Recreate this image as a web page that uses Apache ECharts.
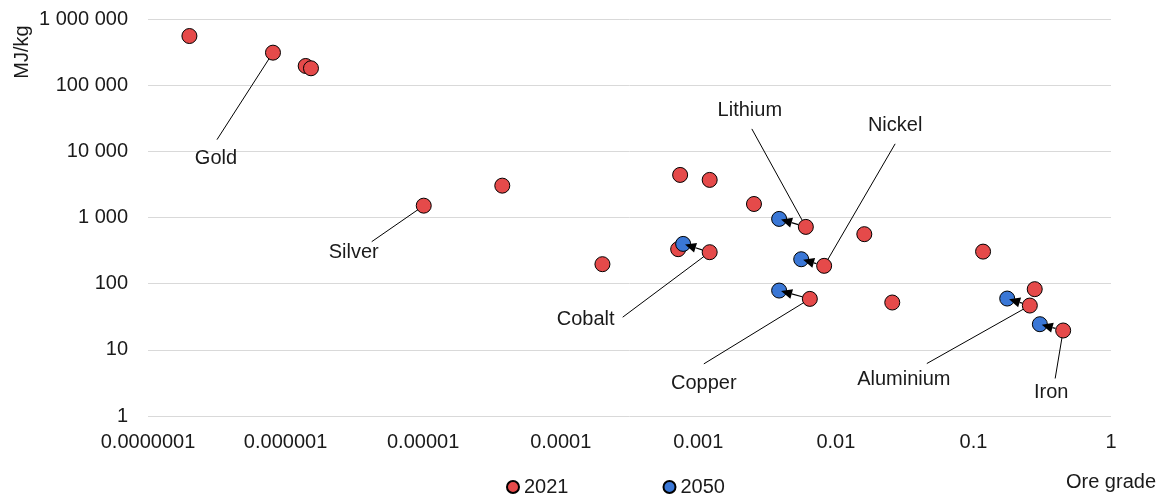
<!DOCTYPE html>
<html>
<head>
<meta charset="utf-8">
<script src="https://cdn.jsdelivr.net/npm/echarts@6/dist/echarts.min.js"></script>
<style>
  html, body { margin: 0; padding: 0; background: #ffffff; }
  #chart { width: 1166px; height: 500px; }
</style>
</head>
<body>
<div id="chart"></div>
<script>
// ---- Data ----
// 2021 points: ore grade (fraction) and energy (MJ/kg); name only where labelled
const metal2021 = ['', 'Gold', '', '', 'Silver', '', '', '', '', '', 'Cobalt', '', 'Lithium', 'Copper', 'Nickel', '', '', '', 'Aluminium', '', 'Iron'];
const grade2021 = [2.0e-7, 8.1e-7, 1.4e-6, 1.53e-6, 1.01e-5, 3.76e-5, 2.01e-4, 7.14e-4, 7.38e-4, 1.21e-3, 1.21e-3, 2.54e-3, 6.05e-3, 6.47e-3, 8.22e-3, 0.0161, 0.0257, 0.1175, 0.257, 0.279, 0.449];
const energy2021 = [553000, 310000, 195000, 180000, 1510, 3030, 197, 332, 4400, 3700, 299, 1600, 721, 58.9, 186, 560, 51.9, 305, 46.7, 82.6, 19.6];

// 2050 points
const metal2050 = ['Lithium', 'Cobalt', 'Nickel', 'Copper', 'Aluminium', 'Iron'];
const grade2050 = [3.87e-3, 7.76e-4, 5.6e-3, 3.87e-3, 0.176, 0.304];
const energy2050 = [952, 399, 234, 78.7, 59.6, 24.4];

// Axis tick values
const xTicks = [1e-7, 1e-6, 1e-5, 1e-4, 1e-3, 1e-2, 1e-1, 1];
const yTicks = [1, 10, 100, 1000, 10000, 100000, 1000000];

// ---- Annotation layout (pixel offsets from the labelled 2021 point) ----
const labelLayout = {
  Gold:      { line: [-56, 87],   text: [-57, 106] },
  Silver:    { line: [-52, 36],   text: [-70, 47] },
  Lithium:   { line: [-54, -98],  text: [-56, -116] },
  Nickel:    { line: [71, -122],  text: [71, -140] },
  Cobalt:    { line: [-87, 65],   text: [-124, 67] },
  Copper:    { line: [-106, 65],  text: [-106, 85] },
  Aluminium: { line: [-103, 58],  text: [-126, 74] },
  Iron:      { line: [-8, 48],    text: [-12, 62] }
};

const RED = '#E54A4A';
const BLUE = '#3A77D6';
const TEXT = '#1a1a1a';
const FONT = '"Liberation Sans", Arial, sans-serif';
const FS = 20;
const R = 8;

const pts2021 = grade2021.map((g, i) => [g, energy2021[i]]);
const pts2050 = grade2050.map((g, i) => [g, energy2050[i]]);

const labelData = [];
metal2021.forEach((n, i) => { if (n) labelData.push([grade2021[i], energy2021[i], n]); });

const arrowData = metal2050.map((n, j) => {
  const i = metal2021.indexOf(n);
  return [grade2021[i], energy2021[i], grade2050[j], energy2050[j]];
});

function fmtX(v) {
  if (v >= 1) return String(Math.round(v));
  const d = Math.round(-Math.log10(v));
  return v.toFixed(d);
}
function fmtY(v) {
  return String(Math.round(v)).replace(/\B(?=(\d{3})+(?!\d))/g, ' ');
}

const chart = echarts.init(document.getElementById('chart'), null, { renderer: 'canvas' });

chart.setOption({
  animation: false,
  backgroundColor: '#ffffff',
  textStyle: { fontFamily: FONT },
  grid: { left: 148, right: 55, top: 19, bottom: 84, containLabel: false },
  xAxis: {
    type: 'log', logBase: 10,
    min: xTicks[0], max: xTicks[xTicks.length - 1],
    splitNumber: xTicks.length - 1,
    axisLine: { show: false },
    axisTick: { show: false },
    splitLine: { show: false },
    axisLabel: { formatter: fmtX, color: TEXT, fontSize: FS, fontFamily: FONT, margin: 16, showMinLabel: true, showMaxLabel: true, hideOverlap: false }
  },
  yAxis: {
    type: 'log', logBase: 10,
    min: yTicks[0], max: yTicks[yTicks.length - 1],
    splitNumber: yTicks.length - 1,
    axisLine: { show: false },
    axisTick: { show: false },
    splitLine: { show: true, lineStyle: { color: '#d9d9d9', width: 1 } },
    axisLabel: { formatter: fmtY, color: TEXT, fontSize: FS, fontFamily: FONT, margin: 20 }
  },
  legend: {
    data: ['2021', '2050'],
    left: 506, top: 477,
    icon: 'circle',
    itemWidth: 12, itemHeight: 12,
    itemGap: 94,
    padding: 0,
    textStyle: { color: TEXT, fontSize: FS, fontFamily: FONT }
  },
  graphic: [
    { type: 'text', x: 22, y: 52, rotation: Math.PI / 2,
      style: { text: 'MJ/kg', fill: TEXT, font: FS + 'px ' + FONT, align: 'center', verticalAlign: 'middle' } },
    { type: 'text', x: 1111, y: 482,
      style: { text: 'Ore grade', fill: TEXT, font: FS + 'px ' + FONT, align: 'center', verticalAlign: 'middle' } }
  ],
  series: [
    {
      name: 'labels', type: 'custom', z: 1, silent: true,
      encode: { x: 0, y: 1 },
      data: labelData,
      renderItem: function (params, api) {
        const p = api.coord([api.value(0), api.value(1)]);
        const name = labelData[params.dataIndex][2];
        const L = labelLayout[name];
        return {
          type: 'group',
          children: [
            { type: 'line', shape: { x1: p[0], y1: p[1], x2: p[0] + L.line[0], y2: p[1] + L.line[1] },
              style: { stroke: '#000', lineWidth: 1 } },
            { type: 'text', x: p[0] + L.text[0], y: p[1] + L.text[1],
              style: { text: name, fill: TEXT, font: FS + 'px ' + FONT, align: 'center', verticalAlign: 'middle' } }
          ]
        };
      }
    },
    {
      name: '2021', type: 'scatter', z: 2,
      symbol: 'circle', symbolSize: 15,
      itemStyle: { color: RED, borderColor: '#000', borderWidth: 1, opacity: 1 },
      data: pts2021
    },
    {
      name: '2050', type: 'scatter', z: 3,
      symbol: 'circle', symbolSize: 15,
      itemStyle: { color: BLUE, borderColor: '#000', borderWidth: 1, opacity: 1 },
      data: pts2050
    },
    {
      name: 'arrows', type: 'custom', z: 5, silent: true,
      encode: { x: [0, 2], y: [1, 3] },
      data: arrowData,
      renderItem: function (params, api) {
        const a = api.coord([api.value(0), api.value(1)]);
        const b = api.coord([api.value(2), api.value(3)]);
        const dx = b[0] - a[0], dy = b[1] - a[1];
        const len = Math.sqrt(dx * dx + dy * dy);
        const ux = dx / len, uy = dy / len;
        const sx = a[0] + ux * R, sy = a[1] + uy * R;
        const tx = b[0] - ux * 2, ty = b[1] - uy * 2;
        const hl = 11, hw = 5;
        const bx = tx - ux * hl, by = ty - uy * hl;
        return {
          type: 'group',
          children: [
            { type: 'line', shape: { x1: sx, y1: sy, x2: bx, y2: by }, style: { stroke: '#000', lineWidth: 1.2 } },
            { type: 'polygon', shape: { points: [[tx, ty], [bx - uy * hw, by + ux * hw], [bx + uy * hw, by - ux * hw]] },
              style: { fill: '#000' } }
          ]
        };
      }
    }
  ]
});
</script>
</body>
</html>
